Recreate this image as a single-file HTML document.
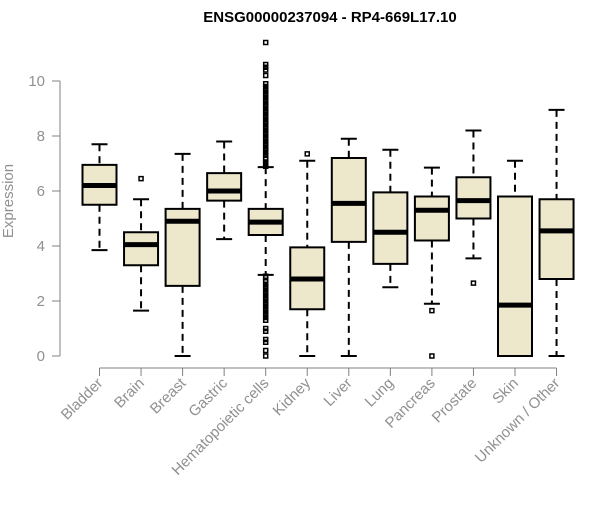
<!DOCTYPE html>
<html><head><meta charset="utf-8"><style>
body{margin:0;background:#fff;font-family:"Liberation Sans",sans-serif}
</style></head><body>
<svg id="chart" width="600" height="500" xmlns="http://www.w3.org/2000/svg">
<text x="330" y="22" text-anchor="middle" font-weight="bold" font-size="15" font-family="Liberation Sans, sans-serif">ENSG00000237094 - RP4-669L17.10</text>
<text transform="translate(13,201) rotate(-90)" text-anchor="middle" font-size="15" fill="#909090" font-family="Liberation Sans, sans-serif">Expression</text>
<g id="axes"></g><g id="boxes"></g>
</svg>
<script>
const categories=["Bladder","Brain","Breast","Gastric","Hematopoietic cells","Kidney","Liver","Lung","Pancreas","Prostate","Skin","Unknown / Other"];
const whiskerHigh=[7.7,5.7,7.35,7.8,6.87,7.1,7.9,7.5,6.85,8.2,7.1,8.95];
const q3=[6.95,4.5,5.35,6.65,5.35,3.95,7.2,5.95,5.8,6.5,5.8,5.7];
const medians=[6.2,4.05,4.9,6.0,4.87,2.8,5.55,4.5,5.3,5.65,1.85,4.55];
const q1=[5.5,3.3,2.55,5.65,4.4,1.7,4.15,3.35,4.2,5.0,0,2.8];
const whiskerLow=[3.85,1.65,0,4.25,2.95,0,0,2.5,1.9,3.55,0,0];
const outliers=[[],[6.45],[],[],[11.4,10.6,10.5,10.4,10.2,9.9,9.8,9.7,9.6,9.5,9.4,9.3,9.2,9.1,9.0,8.9,8.8,8.7,8.6,8.5,8.4,8.3,8.2,8.1,8.0,7.9,7.8,7.7,7.6,7.5,7.4,7.3,7.2,7.15,7.05,7.0,6.95,6.9,2.9,2.85,2.75,2.7,2.6,2.5,2.4,2.3,2.2,2.1,2.0,1.9,1.8,1.7,1.6,1.5,1.4,1.3,1.0,0.9,0.6,0.5,0.2,0],[7.35],[],[],[1.65,0],[2.65],[],[]];
const yTicks=[0,2,4,6,8,10];
const ns="http://www.w3.org/2000/svg";
const y=v=>356-v*27.5, x=i=>99.5+i*41.55;
function mk(tag,attrs,parent){const e=document.createElementNS(ns,tag);for(const k in attrs)e.setAttribute(k,attrs[k]);parent.appendChild(e);return e;}
const ax=document.getElementById('axes'), bx=document.getElementById('boxes');
let yl=mk('line',{x1:60,x2:60,y1:y(10),y2:y(0),stroke:'#808080'},ax);


yTicks.forEach(t=>{
 let l=mk('line',{x1:52,x2:60,y1:y(t),y2:y(t),stroke:'#808080'},ax);
 
 
 let tx=mk('text',{x:45,y:y(t)+5,'text-anchor':'end','font-size':15,fill:'#909090'},ax);tx.textContent=t;
 
 
});
let xl=mk('line',{x1:x(0),x2:x(11),y1:368,y2:368,stroke:'#808080'},ax);


categories.forEach((c,i)=>{
 const cx=x(i);
 let l=mk('line',{x1:cx,x2:cx,y1:368,y2:376,stroke:'#808080'},ax);
 
 
 let t=mk('text',{transform:`translate(${cx+4},${384}) rotate(-45)`,'text-anchor':'end','font-size':15,fill:'#909090'},ax);t.textContent=c;
 
 
 const g=mk('g',{},bx);
 
 
 mk('line',{x1:cx,x2:cx,y1:y(whiskerHigh[i]),y2:y(q3[i]),stroke:'#000','stroke-width':2,'stroke-dasharray':'7,5'},g);
 mk('line',{x1:cx,x2:cx,y1:y(q1[i]),y2:y(whiskerLow[i]),stroke:'#000','stroke-width':2,'stroke-dasharray':'7,5'},g);
 mk('line',{x1:cx-8,x2:cx+8,y1:y(whiskerHigh[i]),y2:y(whiskerHigh[i]),stroke:'#000','stroke-width':2},g);
 mk('line',{x1:cx-8,x2:cx+8,y1:y(whiskerLow[i]),y2:y(whiskerLow[i]),stroke:'#000','stroke-width':2},g);
 mk('rect',{x:cx-17,y:y(q3[i]),width:34,height:Math.max(y(q1[i])-y(q3[i]),0),fill:'#ede7cc',stroke:'#000','stroke-width':2},g);
 mk('line',{x1:cx-17,x2:cx+17,y1:y(medians[i]),y2:y(medians[i]),stroke:'#000','stroke-width':5},g);
 outliers[i].forEach(o=>{mk('rect',{x:cx-2,y:y(o)-2,width:4,height:4,fill:'none',stroke:'#000','stroke-width':1.5},g);});
});
</script>
</body></html>
